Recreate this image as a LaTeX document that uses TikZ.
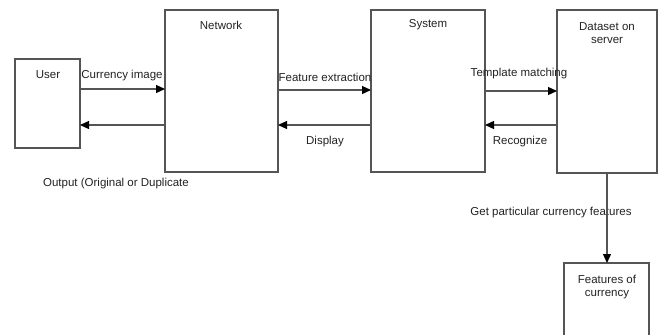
\documentclass[tikz,border=0pt]{standalone}
\usepackage{fontspec}
\setmainfont{Liberation Sans}
\usetikzlibrary{arrows.meta}
\definecolor{ln}{HTML}{555555}
\definecolor{tx}{HTML}{222222}
\begin{document}
\begin{tikzpicture}[x=1pt,y=-1pt,
  box/.style={draw=ln,line width=1.3pt},
  conn/.style={draw=ln,line width=1.3pt,-{Triangle[length=9pt,width=8pt,color=black]}},
  lbl/.style={text=tx,font=\fontsize{11.5}{13}\selectfont,inner sep=0pt,align=center}]
\path[use as bounding box] (0,0) rectangle (662,335);
\clip (0,0) rectangle (662,335);
% boxes
\draw[box] (15,59) rectangle (80,148);
\draw[box] (165,10) rectangle (278,172);
\draw[box] (371,10) rectangle (485,172);
\draw[box] (557,10) rectangle (657,173);
\draw[box] (564,263) rectangle (649,350);
% named anchors
\coordinate (uR1) at (80,89); \coordinate (uR2) at (80,125);
\coordinate (nL1) at (165,89); \coordinate (nL2) at (165,125);
\coordinate (nR1) at (278,90); \coordinate (nR2) at (278,125);
\coordinate (sL1) at (371,90); \coordinate (sL2) at (371,125);
\coordinate (sR1) at (485,91); \coordinate (sR2) at (485,125);
\coordinate (dL1) at (557,91); \coordinate (dL2) at (557,125);
\coordinate (dB) at (607,173); \coordinate (fT) at (607,263);
% text
\node[lbl] (tuser) at (48,75) {User};
\node[lbl] (tnet) at (221,25) {Network};
\node[lbl] (tsys) at (428,25) {System};
\node[lbl] (tdata) at (607,33) {Dataset on\\server};
\node[lbl] (tfeat) at (607,287) {Features of\\currency};
\node[lbl] (l1) at (122,76) {Currency image};
\node[lbl] (l2) at (325,77) {Feature extraction};
\node[lbl] (l3) at (519,74) {Template matching};
\node[lbl] (l4) at (325,142) {Display};
\node[lbl] (l5) at (520,142) {Recognize};
\node[lbl] (l6) at (116,184) {Output (Original or Duplicate};
\node[lbl] (l7) at (551,213) {Get particular currency features};
% connectors
\draw[conn] (uR1) -- (nL1);
\draw[conn] (nL2) -- (uR2);
\draw[conn] (nR1) -- (sL1);
\draw[conn] (sL2) -- (nR2);
\draw[conn] (sR1) -- (dL1);
\draw[conn] (dL2) -- (sR2);
\draw[conn] (dB) -- (fT);
\end{tikzpicture}
\end{document}
